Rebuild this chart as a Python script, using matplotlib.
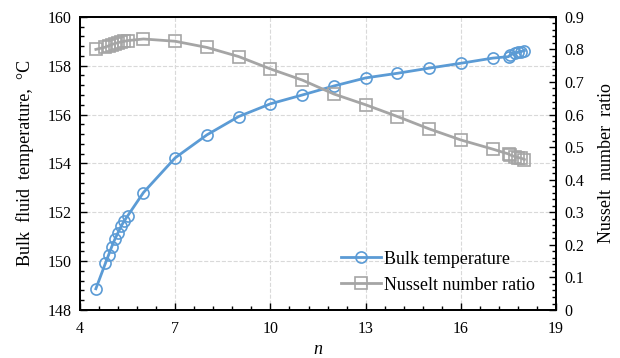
import matplotlib
matplotlib.use('Agg')
import matplotlib.pyplot as plt
from matplotlib.ticker import MultipleLocator

# --- data ---
n = [4.5, 4.8, 4.9, 5.0, 5.1, 5.2, 5.3, 5.4, 5.5,
     6, 7, 8, 9, 10, 11, 12, 13, 14, 15, 16, 17,
     17.5, 17.55, 17.7, 17.8, 17.9, 18.0]
bulk_temp = [148.87, 149.91, 150.25, 150.59, 150.9, 151.17, 151.44, 151.66, 151.85,
             152.81, 154.23, 155.17, 155.92, 156.44, 156.8, 157.17, 157.5, 157.69,
             157.9, 158.1, 158.31,
             158.37, 158.44, 158.51, 158.55, 158.58, 158.62]
nu_ratio = [0.800, 0.807, 0.811, 0.815, 0.818, 0.821, 0.823, 0.825, 0.827,
            0.832, 0.825, 0.806, 0.778, 0.740, 0.706, 0.663, 0.630, 0.594,
            0.556, 0.522, 0.494,
            0.479, 0.476, 0.471, 0.468, 0.466, 0.462]
x_ticks = [4, 7, 10, 13, 16, 19]
ratio_ticks = [0, 0.1, 0.2, 0.3, 0.4, 0.5, 0.6, 0.7, 0.8, 0.9]
ratio_labels = ['0', '0.1', '0.2', '0.3', '0.4', '0.5', '0.6', '0.7', '0.8', '0.9']

plt.rcParams['font.family'] = ['Liberation Serif', 'DejaVu Serif']
plt.rcParams['mathtext.fontset'] = 'custom'
plt.rcParams['mathtext.it'] = 'Liberation Serif:italic'

blue = '#5B9BD5'
gray = '#A5A5A5'

fig = plt.figure(figsize=(6.2, 3.58), dpi=100)
ax = fig.add_axes([0.129, 0.134, 0.768, 0.819])
ax2 = ax.twinx()

l1, = ax.plot(n, bulk_temp, color=blue, linewidth=2, marker='o', markersize=8,
              markerfacecolor='none', markeredgecolor=blue, markeredgewidth=1.2,
              label='Bulk temperature')
l2, = ax2.plot(n, nu_ratio, color=gray, linewidth=2, marker='s', markersize=8,
               markerfacecolor='none', markeredgecolor=gray, markeredgewidth=1.2,
               label='Nusselt number ratio')

ax.set_xlim(4, 19)
ax.set_ylim(148, 160)
ax2.set_ylim(0, 0.9)

ax.set_xticks(x_ticks)
ax.xaxis.set_minor_locator(MultipleLocator(0.6, offset=0.4))
ax.yaxis.set_major_locator(MultipleLocator(2))
ax.yaxis.set_minor_locator(MultipleLocator(0.4))
ax2.set_yticks(ratio_ticks)
ax2.set_yticklabels(ratio_labels)
ax2.yaxis.set_minor_locator(MultipleLocator(0.02))

for a in (ax, ax2):
    a.tick_params(which='both', direction='in', labelsize=11.5, width=1)
    a.tick_params(which='major', length=5)
    a.tick_params(which='minor', length=3)
    for s in a.spines.values():
        s.set_linewidth(1.3)
ax.tick_params(axis='x', pad=8)
ax.tick_params(axis='y', pad=6)
ax2.tick_params(axis='y', pad=6)

ax.grid(True, which='major', linestyle='--', color='#D9D9D9', linewidth=0.8)
ax.set_axisbelow(True)

ax.set_xlabel('$n$', fontsize=13, labelpad=3)
ax.set_ylabel('Bulk  fluid  temperature,  °C', fontsize=13, labelpad=10)
ax2.set_ylabel('Nusselt  number  ratio', fontsize=13, labelpad=10)

ax2.legend([l1, l2], ['Bulk temperature', 'Nusselt number ratio'],
           loc='lower right', bbox_to_anchor=(0.99, 0.0), frameon=False,
           fontsize=13, handlelength=2.2, handletextpad=0.2, labelspacing=0.5)

fig.savefig('out.png', dpi=100)
